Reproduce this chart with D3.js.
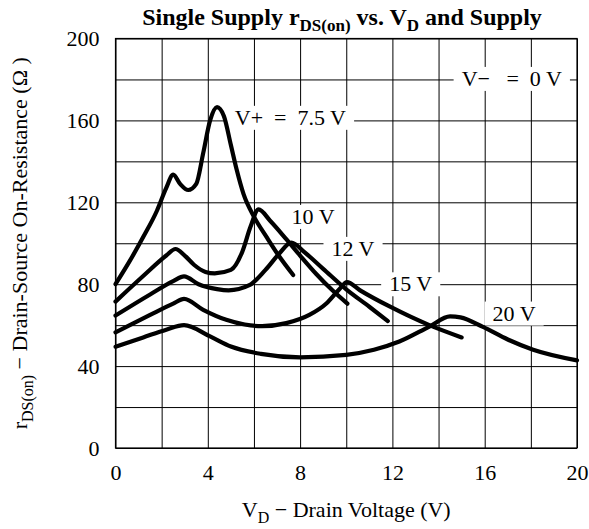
<!DOCTYPE html>
<html>
<head>
<meta charset="utf-8">
<script src="https://cdn.jsdelivr.net/npm/d3@7"></script>
<style>
  body { margin: 0; background: #fff; }
  svg text { font-family: "Liberation Serif", "Times New Roman", serif; fill: #000; white-space: pre; }
</style>
</head>
<body>
<svg id="chart" width="589" height="529"></svg>
<script>
// grid / tick values
const vdTicks = d3.range(0, 21, 2);
const rTicks = d3.range(0, 201, 20);

// curves: VD (V) and rDS(on) (ohm)
const vd75 = [0, 0.6, 1.2, 1.8, 2.2, 2.5, 2.8, 3.15, 3.5, 3.8, 4.1, 4.4, 4.7, 5.0, 5.25, 5.55, 6.0, 6.55, 7.1, 7.7];
const r75  = [80, 91, 103, 116, 127, 133.5, 129, 126, 129, 144, 160, 166.5, 162, 148, 136, 124, 113, 103, 93.5, 84.5];

const vd10 = [0, 1.2, 2.2, 2.6, 3.0, 3.4, 3.9, 4.3, 5.0, 5.5, 5.85, 6.2, 6.7, 7.4, 8.0, 8.7, 9.4, 10.05];
const r10  = [71.5, 84, 94, 97.2, 94, 89.5, 86, 85.3, 87, 96, 108, 116.5, 111, 102, 94, 85, 77, 70.5];

const vd12 = [0, 1.5, 2.5, 2.97, 3.6, 4.4, 4.9, 5.8, 6.5, 7.1, 7.62, 8.2, 9.0, 10.0, 11.0, 11.8];
const r12  = [64.7, 75, 81.5, 83.8, 80, 77.6, 77, 79.5, 87, 95, 100.3, 95.5, 87.5, 77.5, 69, 62];

const vd15 = [0, 1.5, 2.5, 2.97, 3.8, 4.8, 5.6, 6.35, 7.4, 8.4, 9.15, 9.7, 10.03, 10.6, 11.9, 13.6, 15.0];
const r15  = [56.5, 65, 70.5, 72.8, 67.5, 62.6, 60.3, 59.5, 61, 65, 70.7, 77.5, 81, 77, 69, 60, 54];

const vd20 = [0, 1.2, 2.2, 2.97, 4.1, 5.0, 6.3, 8.0, 10.0, 11.2, 12.3, 13.6, 14.5, 14.95, 15.9, 17.0, 18.1, 20.0];
const r20  = [49.4, 54, 57.8, 60, 54.5, 49.6, 46, 44.3, 45.5, 48, 52, 59.3, 64.3, 63.8, 59.3, 53, 48, 42.8];

const seriesVd = [vd75, vd10, vd12, vd15, vd20];
const seriesR = [r75, r10, r12, r15, r20];

// curve labels, anchored at their left edge (VD, rDS)
const labelText = ["V+  =  7.5 V", "V\u2212   =  0 V", "10 V", "12 V", "15 V", "20 V"];
const labelVd = [5.17, 15.0, 7.63, 9.36, 11.86, 16.34];
const labelR = [161.6, 180.6, 113.2, 97.6, 80.3, 66];

const margin = {top: 38.5, right: 12, bottom: 81, left: 115.5};
const svg = d3.select("#chart");
const width = +svg.attr("width") - margin.left - margin.right;
const height = +svg.attr("height") - margin.top - margin.bottom;
const g = svg.append("g").attr("transform", `translate(${margin.left},${margin.top})`);

const x = d3.scaleLinear().domain([0, 20]).range([0, width]);
const y = d3.scaleLinear().domain([0, 200]).range([height, 0]);

// grid + tick labels
const xAxis = g.append("g")
    .attr("transform", `translate(0,${height})`)
    .call(d3.axisBottom(x).tickValues(vdTicks).tickSize(-height).tickSizeOuter(0).tickPadding(16)
      .tickFormat((d) => d % 4 === 0 ? d : ""));
const yAxis = g.append("g")
    .call(d3.axisLeft(y).tickValues(rTicks).tickSize(-width).tickSizeOuter(0).tickPadding(16)
      .tickFormat((d) => d % 40 === 0 ? d : ""));
[xAxis, yAxis].forEach((a) => {
  a.select(".domain").remove();
  a.selectAll(".tick line").attr("stroke", "#000").attr("stroke-width", 1);
  a.selectAll(".tick text").attr("font-size", 22).attr("font-family", null);
});

g.append("rect")
    .attr("width", width).attr("height", height)
    .attr("fill", "none").attr("stroke", "#000").attr("stroke-width", 1.2);

// labels with white boxes hiding the grid
const lab = g.append("g").selectAll("g").data(labelText).join("g");
lab.append("text")
    .attr("x", (d, i) => x(labelVd[i]))
    .attr("y", (d, i) => y(labelR[i]))
    .attr("dy", "0.35em")
    .attr("font-size", 22)
    .text((d) => d);
lab.each(function() {
  const t = d3.select(this).select("text");
  const b = t.node().getBBox();
  d3.select(this).insert("rect", "text")
      .attr("x", b.x - 8).attr("y", b.y + 1)
      .attr("width", b.width + 16).attr("height", b.height - 1)
      .attr("fill", "#fff");
});

// curves
const line = d3.line()
    .x((d) => x(d[0]))
    .y((d) => y(d[1]))
    .curve(d3.curveMonotoneX);
g.append("g").selectAll("path")
  .data(seriesVd.map((vd, i) => vd.map((v, j) => [v, seriesR[i][j]])))
  .join("path")
    .attr("d", line)
    .attr("fill", "none")
    .attr("stroke", "#000")
    .attr("stroke-width", 4.2)
    .attr("stroke-linecap", "round")
    .attr("stroke-linejoin", "round");

// title
const title = svg.append("text")
    .attr("x", 342).attr("y", 25)
    .attr("text-anchor", "middle")
    .attr("font-size", 24).attr("font-weight", "bold");
title.append("tspan").text("Single Supply r");
title.append("tspan").attr("dy", 6).attr("font-size", 17).text("DS(on)");
title.append("tspan").attr("dy", -6).text(" vs. V");
title.append("tspan").attr("dy", 6).attr("font-size", 17).text("D");
title.append("tspan").attr("dy", -6).text(" and Supply");

// x axis title
const xt = svg.append("text")
    .attr("x", margin.left + width / 2).attr("y", 517)
    .attr("text-anchor", "middle").attr("font-size", 22);
xt.append("tspan").text("V");
xt.append("tspan").attr("dy", 6).attr("font-size", 16).text("D");
xt.append("tspan").attr("dy", -6).text(" \u2212 Drain Voltage (V)");

// y axis title
const yt = svg.append("text")
    .attr("transform", `translate(27,${margin.top + height / 2}) rotate(-90)`)
    .attr("text-anchor", "middle").attr("font-size", 22);
yt.append("tspan").text("r");
yt.append("tspan").attr("dy", 6).attr("font-size", 16).text("DS(on)");
yt.append("tspan").attr("dy", -6).text(" \u2212 Drain-Source On-Resistance (\u03A9 )");
</script>
</body>
</html>
